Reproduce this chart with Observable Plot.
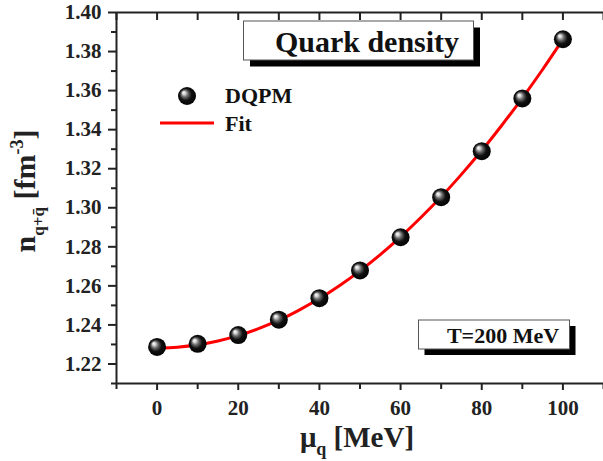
<!DOCTYPE html>
<html>
<head>
<meta charset="utf-8">
<script src="https://cdn.jsdelivr.net/npm/d3@7"></script>
<script src="https://cdn.jsdelivr.net/npm/@observablehq/plot@0.6"></script>
<style>
  html, body { margin: 0; padding: 0; background: #fff; }
  #wrap { position: relative; width: 603px; height: 461px; }
  #wrap svg, #wrap svg text { font-family: "Liberation Serif", "Times New Roman", Times, "DejaVu Serif", serif !important; font-weight: bold; }
</style>
</head>
<body>
<div id="wrap"></div>
<script>
// DQPM data points
const muDQPM = [0, 10, 20, 30, 40, 50, 60, 70, 80, 90, 100];
const nDQPM = [1.2287, 1.2303, 1.2348, 1.2427, 1.2537, 1.2679, 1.2849, 1.3054, 1.3290, 1.3560, 1.3863];
// Fit curve
const muFit = [0, 5, 10, 15, 20, 25, 30, 35, 40, 45, 50, 55, 60, 65, 70, 75, 80, 85, 90, 95, 100];
const nFit = [1.2282, 1.2286, 1.2298, 1.2318, 1.2345, 1.2381, 1.2424, 1.2476, 1.2535, 1.2602, 1.2677, 1.2760, 1.2851, 1.2950, 1.3056, 1.3171, 1.3293, 1.3424, 1.3562, 1.3708, 1.3862];
// Tick values
const xMajor = [0, 20, 40, 60, 80, 100];
const xMinor = [-10, 10, 30, 50, 70, 90, 110];
const yMajor = [1.22, 1.24, 1.26, 1.28, 1.30, 1.32, 1.34, 1.36, 1.38, 1.40];
const yMinor = [1.21, 1.23, 1.25, 1.27, 1.29, 1.31, 1.33, 1.35, 1.37, 1.39];
// Texts
const titleText = "Quark density";
const tempText = "T=200 MeV";
const legendLabels = ["DQPM", "Fit"];

const dqpm = muDQPM.map((m, i) => ({mu: m, n: nDQPM[i]}));
const fit = muFit.map((m, i) => ({mu: m, n: nFit[i]}));

const axisColor = "#222";
const font = "Liberation Serif, Times New Roman, DejaVu Serif, serif";

const plot = Plot.plot({
  width: 603,
  height: 461,
  marginLeft: 116,
  marginTop: 12,
  marginBottom: 78,
  marginRight: 0,
  style: {fontFamily: font, fontWeight: "bold", fontSize: "21px", color: "#222", background: "#fff", overflow: "visible"},
  x: {domain: [-10, 110]},
  y: {domain: [1.21, 1.40]},
  marks: [
    Plot.ruleY([1.21], {stroke: axisColor, strokeWidth: 2}),
    Plot.ruleY([1.40], {stroke: axisColor, strokeWidth: 2}),
    Plot.ruleX([-10], {stroke: axisColor, strokeWidth: 2}),
    Plot.axisY({ticks: yMajor, tickSize: 8, tickPadding: 7, tickFormat: d3.format(".2f"), label: null, stroke: axisColor, strokeWidth: 2, fontSize: 21}),
    Plot.axisY({ticks: yMinor, tickSize: 5, tickFormat: () => "", label: null, stroke: axisColor, strokeWidth: 2}),
    Plot.axisX({ticks: xMajor, tickSize: 7, tickPadding: 10, label: null, stroke: axisColor, strokeWidth: 2, fontSize: 21}),
    Plot.axisX({ticks: xMinor, tickSize: 6, tickFormat: () => "", label: null, stroke: axisColor, strokeWidth: 2}),
    Plot.axisX({anchor: "top", ticks: xMajor.concat(xMinor), tickSize: -7, tickFormat: () => "", label: null, stroke: axisColor, strokeWidth: 2}),
    Plot.line(fit, {x: "mu", y: "n", stroke: "#ff0000", strokeWidth: 3, curve: "catmull-rom"}),
    Plot.dot(dqpm, {x: "mu", y: "n", r: 9, fill: "url(#sphereGrad)", stroke: "none"})
  ]
});

const svg = d3.select(plot);
const defs = svg.insert("defs", ":first-child");
const g = defs.append("radialGradient").attr("id", "sphereGrad")
  .attr("cx", "0.5").attr("cy", "0.5").attr("r", "0.55").attr("fx", "0.3").attr("fy", "0.3");
g.append("stop").attr("offset", "0").attr("stop-color", "#ffffff");
g.append("stop").attr("offset", "0.15").attr("stop-color", "#d8d8d8");
g.append("stop").attr("offset", "0.35").attr("stop-color", "#6a6a6a");
g.append("stop").attr("offset", "0.6").attr("stop-color", "#111");
g.append("stop").attr("offset", "1").attr("stop-color", "#000");

// Axis labels
svg.append("text")
  .attr("x", 357).attr("y", 447)
  .attr("text-anchor", "middle")
  .attr("font-size", 29).attr("fill", "#222")
  .html('μ<tspan font-size="18" dy="8">q</tspan><tspan dy="-8"> [MeV]</tspan>');

svg.append("text")
  .attr("transform", "translate(35,191) rotate(-90)")
  .attr("text-anchor", "middle")
  .attr("font-size", 30).attr("fill", "#222")
  .html('n<tspan font-size="17" dy="9">q+q̄</tspan><tspan dy="-9"> [fm</tspan><tspan font-size="18" dy="-12">-3</tspan><tspan dy="12">]</tspan>');

// Legend
const legendY = [96, 123];
svg.append("circle").attr("cx", 187).attr("cy", legendY[0]).attr("r", 9).attr("fill", "url(#sphereGrad)");
svg.append("line").attr("x1", 160).attr("x2", 214).attr("y1", legendY[1]).attr("y2", legendY[1])
  .attr("stroke", "#ff0000").attr("stroke-width", 3);
legendLabels.forEach((t, i) => {
  svg.append("text").attr("x", 225).attr("y", legendY[i] + (i === 0 ? 7 : 8))
    .attr("text-anchor", "start")
    .attr("font-size", 22).attr("fill", "#111")
    .text(t);
});

// Boxes
function box(x, y, w, h, sh, text, size, tx, ty) {
  svg.append("rect").attr("x", x + sh).attr("y", y + sh).attr("width", w).attr("height", h).attr("fill", "#000");
  svg.append("rect").attr("x", x).attr("y", y).attr("width", w).attr("height", h).attr("fill", "#fff").attr("stroke", "#555").attr("stroke-width", 1);
  svg.append("text").attr("x", tx).attr("y", ty)
    .attr("text-anchor", "middle")
    .attr("font-size", size).attr("fill", "#111")
    .text(text);
}
box(243.5, 21, 230, 39, 6.5, titleText, 30, 367, 52);
box(418.5, 320, 151, 29, 6, tempText, 22, 503, 343);

document.getElementById("wrap").appendChild(plot);
</script>
</body>
</html>
